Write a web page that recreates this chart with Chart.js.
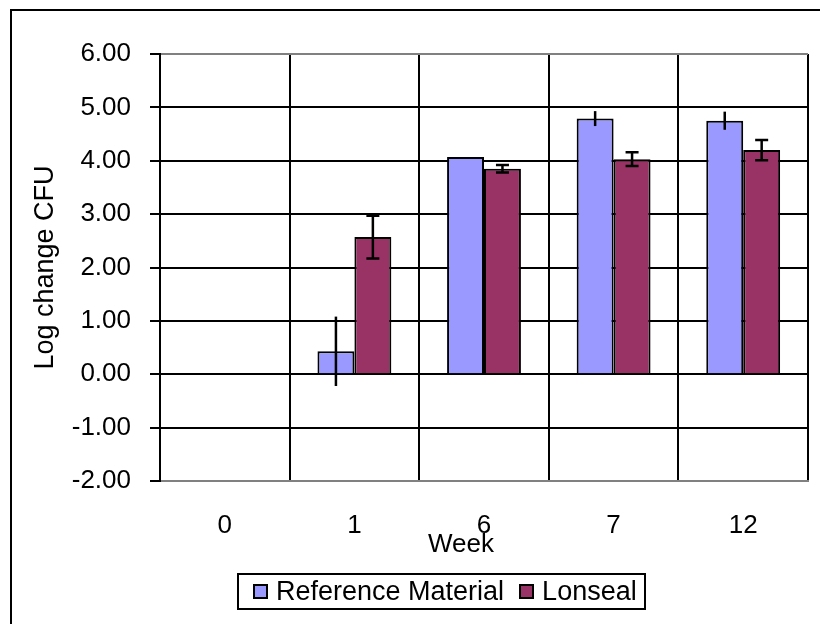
<!DOCTYPE html>
<html>
<head>
<meta charset="utf-8">
<script src="https://cdn.jsdelivr.net/npm/chart.js@4/dist/chart.umd.min.js"></script>
<style>
  body { margin: 0; background: #fff; }
  #wrap { position: relative; width: 820px; height: 624px; overflow: hidden; }
  #chart { position: absolute; left: 0; top: 0; }
  #legend {
    position: absolute; left: 237px; top: 573px; width: 405px; height: 33px;
    border: 2px solid #000; display: flex; align-items: center;
    font-family: "Liberation Sans", Arial, sans-serif; font-size: 27px; color: #000;
  }
  .leg-item { display: flex; align-items: center; white-space: nowrap; }
  .leg-box { width: 11px; height: 11px; border: 2px solid #000; margin-right: 8px; }
  #xtitle {
    position: absolute; left: 361px; width: 200px; top: 528px; text-align: center;
    font-family: "Liberation Sans", Arial, sans-serif; font-size: 26px; color: #000;
  }
</style>
</head>
<body>
<div id="wrap">
  <canvas id="chart" width="820" height="624"></canvas>
  <div id="xtitle"></div>
  <div id="legend"></div>
</div>
<script>
const weeks = ['0', '1', '6', '7', '12'];
const xTitle = 'Week';
const yTitle = 'Log change CFU';
const seriesNames = ['Reference Material', 'Lonseal'];
const refMean = [0, 0.43, 4.07, 4.79, 4.75];
const refErr = [0, 0.65, 0, 0.14, 0.17];
const lonMean = [0, 2.57, 3.85, 4.03, 4.20];
const lonErr = [0, 0.40, 0.07, 0.13, 0.19];
const yTicks = [-2, -1, 0, 1, 2, 3, 4, 5, 6];

const FONT = '"Liberation Sans", Arial, sans-serif';
const colors = ['#9999FF', '#993366'];
const plotGray = '#808080';

// outer frame of the excel chart object
const framePlugin = {
  id: 'frame',
  beforeDraw(chart) {
    const ctx = chart.ctx;
    ctx.save();
    ctx.strokeStyle = '#000';
    ctx.lineWidth = 2;
    ctx.strokeRect(11, 10, 1000, 1000);
    ctx.restore();
  }
};

// error bars, drawn from the data through the y scale
const errorBars = {
  id: 'errorBars',
  afterDatasetsDraw(chart) {
    const ctx = chart.ctx;
    const y = chart.scales.y;
    chart.data.datasets.forEach((ds, i) => {
      const meta = chart.getDatasetMeta(i);
      meta.data.forEach((bar, j) => {
        const err = ds.errors[j];
        if (!err) return;
        const top = y.getPixelForValue(ds.data[j] + err);
        const bot = y.getPixelForValue(ds.data[j] - err);
        ctx.save();
        ctx.strokeStyle = '#000';
        ctx.lineWidth = 2.5;
        ctx.beginPath();
        ctx.moveTo(bar.x, top);
        ctx.lineTo(bar.x, bot);
        if (ds.capWidth) {
          const c = ds.capWidth / 2;
          ctx.moveTo(bar.x - c, top);
          ctx.lineTo(bar.x + c, top);
          ctx.moveTo(bar.x - c, bot);
          ctx.lineTo(bar.x + c, bot);
        }
        ctx.stroke();
        ctx.restore();
      });
    });
  }
};

const chart = new Chart(document.getElementById('chart'), {
  type: 'bar',
  data: {
    labels: weeks,
    datasets: [
      {
        label: seriesNames[0],
        data: refMean,
        errors: refErr,
        capWidth: 0,
        backgroundColor: colors[0],
        borderColor: '#000',
        borderWidth: 2,
        categoryPercentage: 0.57,
        barPercentage: 1
      },
      {
        label: seriesNames[1],
        data: lonMean,
        errors: lonErr,
        capWidth: 13,
        backgroundColor: colors[1],
        borderColor: '#000',
        borderWidth: 2,
        categoryPercentage: 0.57,
        barPercentage: 1
      }
    ]
  },
  options: {
    responsive: false,
    animation: false,
    devicePixelRatio: 1,
    layout: { padding: { left: 0, top: 54, right: 12, bottom: 63 } },
    plugins: {
      legend: { display: false },
      tooltip: { enabled: false }
    },
    scales: {
      x: {
        grid: {
          offset: true,
          color: (c) => (c.index === weeks.length ? plotGray : '#000'),
          lineWidth: 2,
          drawTicks: false
        },
        border: { color: plotGray, width: 2 },
        ticks: { color: '#000', font: { family: FONT, size: 26 }, padding: 29 },
        afterFit(scale) { scale.height = 80; }
      },
      y: {
        min: yTicks[0],
        max: yTicks[yTicks.length - 1],
        afterBuildTicks(scale) { scale.ticks = yTicks.map(v => ({ value: v })); },
        grid: {
          color: (c) => (c.tick && (c.tick.value === yTicks[0] || c.tick.value === yTicks[yTicks.length - 1]) ? plotGray : '#000'),
          tickColor: '#000',
          lineWidth: 2,
          tickLength: 10
        },
        border: { color: '#000', width: 2 },
        ticks: {
          color: '#000',
          font: { family: FONT, size: 26 },
          padding: 19,
          callback: (v) => Number(v).toFixed(2)
        },
        title: {
          display: true,
          text: yTitle,
          color: '#000',
          font: { family: FONT, size: 27 },
          padding: { top: 29, bottom: 0 }
        },
        afterFit(scale) { scale.width = 160; }
      }
    }
  },
  plugins: [framePlugin, errorBars]
});

document.getElementById('xtitle').textContent = xTitle;

// html legend built from the datasets
const legend = document.getElementById('legend');
chart.data.datasets.forEach((ds, i) => {
  const item = document.createElement('div');
  item.className = 'leg-item';
  item.style.marginLeft = i === 0 ? '14px' : '15px';
  item.innerHTML = `<span class="leg-box" style="background:${ds.backgroundColor}"></span><span>${ds.label}</span>`;
  legend.appendChild(item);
});
</script>
</body>
</html>
